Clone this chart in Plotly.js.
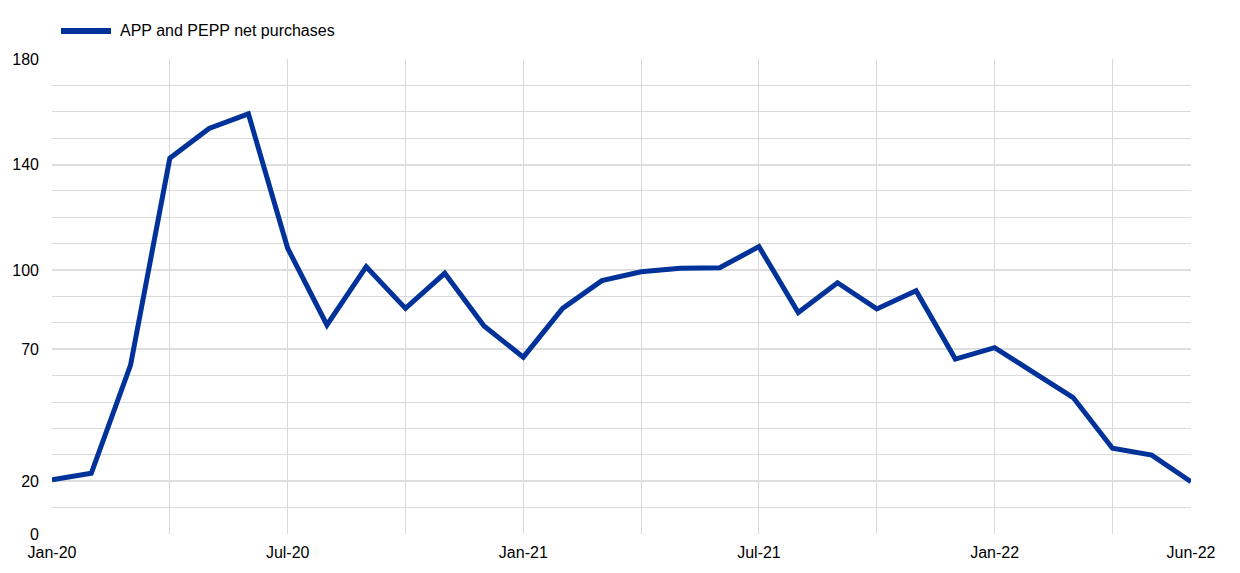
<!DOCTYPE html>
<html>
<head>
<meta charset="utf-8">
<script src="https://cdn.plot.ly/plotly-3.0.1.min.js"></script>
<style>
  html, body { margin: 0; padding: 0; background: #fff; }
  #chart { width: 1240px; height: 573px; }
</style>
</head>
<body>
<div id="chart"></div>
<script>
// ---- data ----
const seriesName = "APP and PEPP net purchases";
const months = [
  "Jan-20","Feb-20","Mar-20","Apr-20","May-20","Jun-20","Jul-20","Aug-20","Sep-20","Oct-20","Nov-20","Dec-20",
  "Jan-21","Feb-21","Mar-21","Apr-21","May-21","Jun-21","Jul-21","Aug-21","Sep-21","Oct-21","Nov-21","Dec-21",
  "Jan-22","Feb-22","Mar-22","Apr-22","May-22","Jun-22"
];
const netPurchases = [
  20.5, 23.0, 64.0, 142.4, 153.7, 159.2, 108.3, 79.2, 101.3, 85.5, 98.8, 78.8,
  67.0, 85.5, 96.0, 99.4, 100.7, 100.9, 108.9, 83.9, 95.2, 85.3, 92.2, 66.3,
  70.6, 61.1, 51.7, 32.5, 29.9, 19.8
];
const xTickVals = ["Jan-20","Apr-20","Jul-20","Oct-20","Jan-21","Apr-21","Jul-21","Oct-21","Jan-22","Apr-22","Jun-22"];
const xTickText = ["Jan-20","","Jul-20","","Jan-21","","Jul-21","","Jan-22","","Jun-22"];
const yTickVals = [0, 20, 70, 100, 140, 180];

// ---- style ----
const blue = "#003299";
const font = "Arial, 'Liberation Sans', sans-serif";

const trace = {
  type: "scatter",
  mode: "lines",
  x: months,
  y: netPurchases,
  name: seriesName,
  line: { color: blue, width: 5, shape: "linear" },
  hoverinfo: "x+y",
  showlegend: false
};

const layout = {
  width: 1240,
  height: 573,
  margin: { l: 52, r: 49, t: 59, b: 39, pad: 0 },
  paper_bgcolor: "#ffffff",
  plot_bgcolor: "#ffffff",
  font: { family: font, size: 16, color: "#000000" },
  showlegend: false,
  xaxis: {
    type: "category",
    range: [0, months.length - 1],
    tickmode: "array",
    tickvals: xTickVals,
    ticktext: xTickText,
    showgrid: true,
    gridcolor: "#d9d9d9",
    gridwidth: 1,
    zeroline: false,
    showline: false,
    ticks: "",
    tickangle: 0,
    ticklabelstandoff: 7,
    tickfont: { family: font, size: 16, color: "#000" },
    fixedrange: true
  },
  yaxis: {
    range: [0, 180],
    tickmode: "array",
    tickvals: yTickVals,
    showgrid: true,
    gridcolor: "#dedede",
    gridwidth: 2,
    minor: { dtick: 10, tick0: 0, showgrid: true, gridcolor: "#dadada", gridwidth: 1 },
    zeroline: false,
    showline: false,
    ticks: "",
    ticklabelstandoff: 12,
    tickfont: { family: font, size: 16, color: "#000" },
    fixedrange: true
  },
  shapes: [
    {
      type: "line", xref: "paper", yref: "paper",
      x0: 9 / 1139, x1: 59 / 1139,
      y0: (534 - 31) / 475, y1: (534 - 31) / 475,
      line: { color: blue, width: 6 }
    }
  ],
  annotations: [
    {
      xref: "paper", yref: "paper",
      x: 66 / 1139, y: (534 - 31) / 475,
      xanchor: "left", yanchor: "middle",
      text: seriesName, showarrow: false,
      font: { family: font, size: 16, color: "#000" }
    }
  ]
};

Plotly.newPlot("chart", [trace], layout, { displayModeBar: false, staticPlot: true });
</script>
</body>
</html>
